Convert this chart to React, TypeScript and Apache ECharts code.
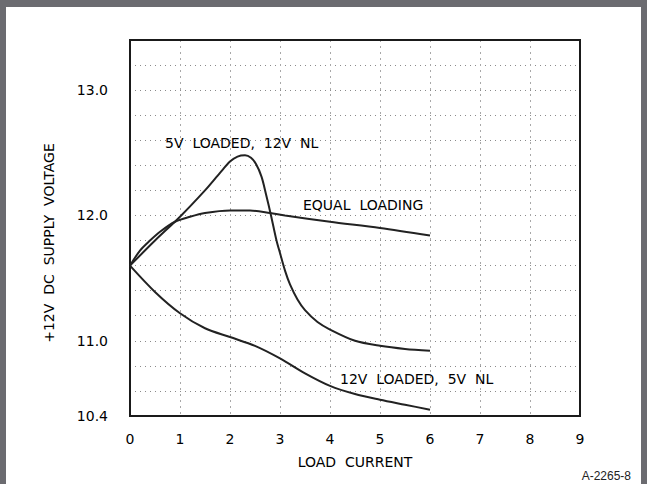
import React, { useEffect, useRef } from "react";
import * as echarts from "echarts";

// ---- data ----
const xTickValues = [0, 1, 2, 3, 4, 5, 6, 7, 8, 9];
const yTickLabels = ["10.4", "11.0", "12.0", "13.0"];

const fiveVLoaded: [number, number][] = [
  [0, 11.6], [0.5, 11.8], [1.0, 11.99], [1.5, 12.2], [1.8, 12.34], [2.0, 12.43],
  [2.15, 12.47], [2.3, 12.48], [2.42, 12.46], [2.52, 12.41], [2.63, 12.31], [2.72, 12.17],
  [2.82, 12.0], [2.93, 11.8], [3.0, 11.7], [3.1, 11.56], [3.2, 11.45],
  [3.35, 11.33], [3.5, 11.245], [3.75, 11.15], [4.0, 11.09], [4.5, 11.0],
  [5.0, 10.96], [5.5, 10.935], [6.0, 10.92],
];
const equalLoading: [number, number][] = [
  [0, 11.6], [0.2, 11.72], [0.4, 11.8], [0.6, 11.87], [0.9, 11.95], [1.2, 11.99],
  [1.5, 12.02], [2.0, 12.04], [2.4, 12.04], [2.8, 12.02], [3.1, 12.0],
  [4.0, 11.95], [5.0, 11.9], [6.0, 11.84],
];
const twelveVLoaded: [number, number][] = [
  [0, 11.6], [0.5, 11.39], [1.0, 11.22], [1.5, 11.1], [2.0, 11.03], [2.5, 10.96],
  [3.0, 10.86], [3.5, 10.74], [4.0, 10.64], [4.5, 10.575], [5.0, 10.53],
  [5.5, 10.49], [6.0, 10.45],
];

const curveLabels = ["5V  LOADED,  12V  NL", "EQUAL  LOADING", "12V  LOADED,  5V  NL"];
const xTitle = "LOAD  CURRENT";
const yTitle = "+12V  DC  SUPPLY  VOLTAGE";
const figId = "A-2265-8";

const FONT = "DejaVu Sans";
const INK = "#222";
const TXT = "#000";
const FRAME = "#6b6b70";

export default function App() {
  const ref = useRef<HTMLDivElement>(null);
  useEffect(() => {
    const chart = echarts.init(ref.current!, null, { renderer: "svg" });
    const lineSeries = (name: string, data: [number, number][]) => ({
      name,
      type: "line",
      data,
      smooth: 0.3,
      showSymbol: false,
      symbol: "none",
      lineStyle: { color: INK, width: 2 },
    });
    const txt = (text: string, x: number, y: number, align: string, extra: any = {}) => ({
      type: "text", x, y, z: 5, ...extra,
      style: { text, font: `14px "${FONT}"`, fill: TXT, textAlign: align, textVerticalAlign: "middle" },
    });
    chart.setOption({
      animation: false,
      backgroundColor: "#fff",
      grid: {
        left: 130, top: 40, width: 450, height: 376,
        show: true, borderColor: "#1a1a1a", borderWidth: 2, backgroundColor: "transparent",
        z: 3,
      },
      xAxis: {
        type: "value", min: 0, max: 9, interval: 1,
        axisLine: { show: false }, axisTick: { show: false },
        axisLabel: {
          color: TXT, fontFamily: FONT, fontSize: 14, margin: 16,
          formatter: (v: number) => (xTickValues.includes(v) ? String(v) : ""),
        },
        splitLine: { show: true, lineStyle: { color: "#a8a8a8", width: 1, type: [2, 4] } },
      },
      yAxis: {
        type: "value", min: 10.4, max: 13.4, interval: 0.2,
        axisLine: { show: false }, axisTick: { show: false },
        axisLabel: {
          color: TXT, fontFamily: FONT, fontSize: 14, margin: 22,
          padding: [4, 0, 0, 0],
          formatter: (v: number) => {
            const s = v.toFixed(1);
            return yTickLabels.includes(s) ? s : "";
          },
        },
        splitLine: { show: true, lineStyle: { color: "#8a8a8a", width: 1, type: [1, 4] } },
      },
      series: [
        lineSeries("5V LOADED, 12V NL", fiveVLoaded),
        lineSeries("EQUAL LOADING", equalLoading),
        lineSeries("12V LOADED, 5V NL", twelveVLoaded),
      ],
      graphic: [
        { type: "rect", shape: { x: 0, y: 0, width: 647, height: 7 }, style: { fill: FRAME }, z: 10 },
        { type: "rect", shape: { x: 0, y: 0, width: 6, height: 484 }, style: { fill: FRAME }, z: 10 },
        { type: "rect", shape: { x: 641, y: 0, width: 6, height: 484 }, style: { fill: FRAME }, z: 10 },
        txt(curveLabels[0], 165, 143, "left"),
        txt(curveLabels[1], 303, 205, "left"),
        txt(curveLabels[2], 340, 379, "left"),
        txt(xTitle, 355, 462, "center"),
        txt(yTitle, 49, 243, "center", { rotation: Math.PI / 2 }),
        {
          type: "text", x: 631, y: 476,
          style: { text: figId, font: `12px "Liberation Sans"`, fill: "#222", textAlign: "right", textVerticalAlign: "middle" },
        },
      ],
    });
    return () => chart.dispose();
  }, []);
  return (
    <div
      ref={ref}
      style={{ position: "fixed", left: 0, top: 0, width: 647, height: 484, background: "#fff" }}
    />
  );
}
